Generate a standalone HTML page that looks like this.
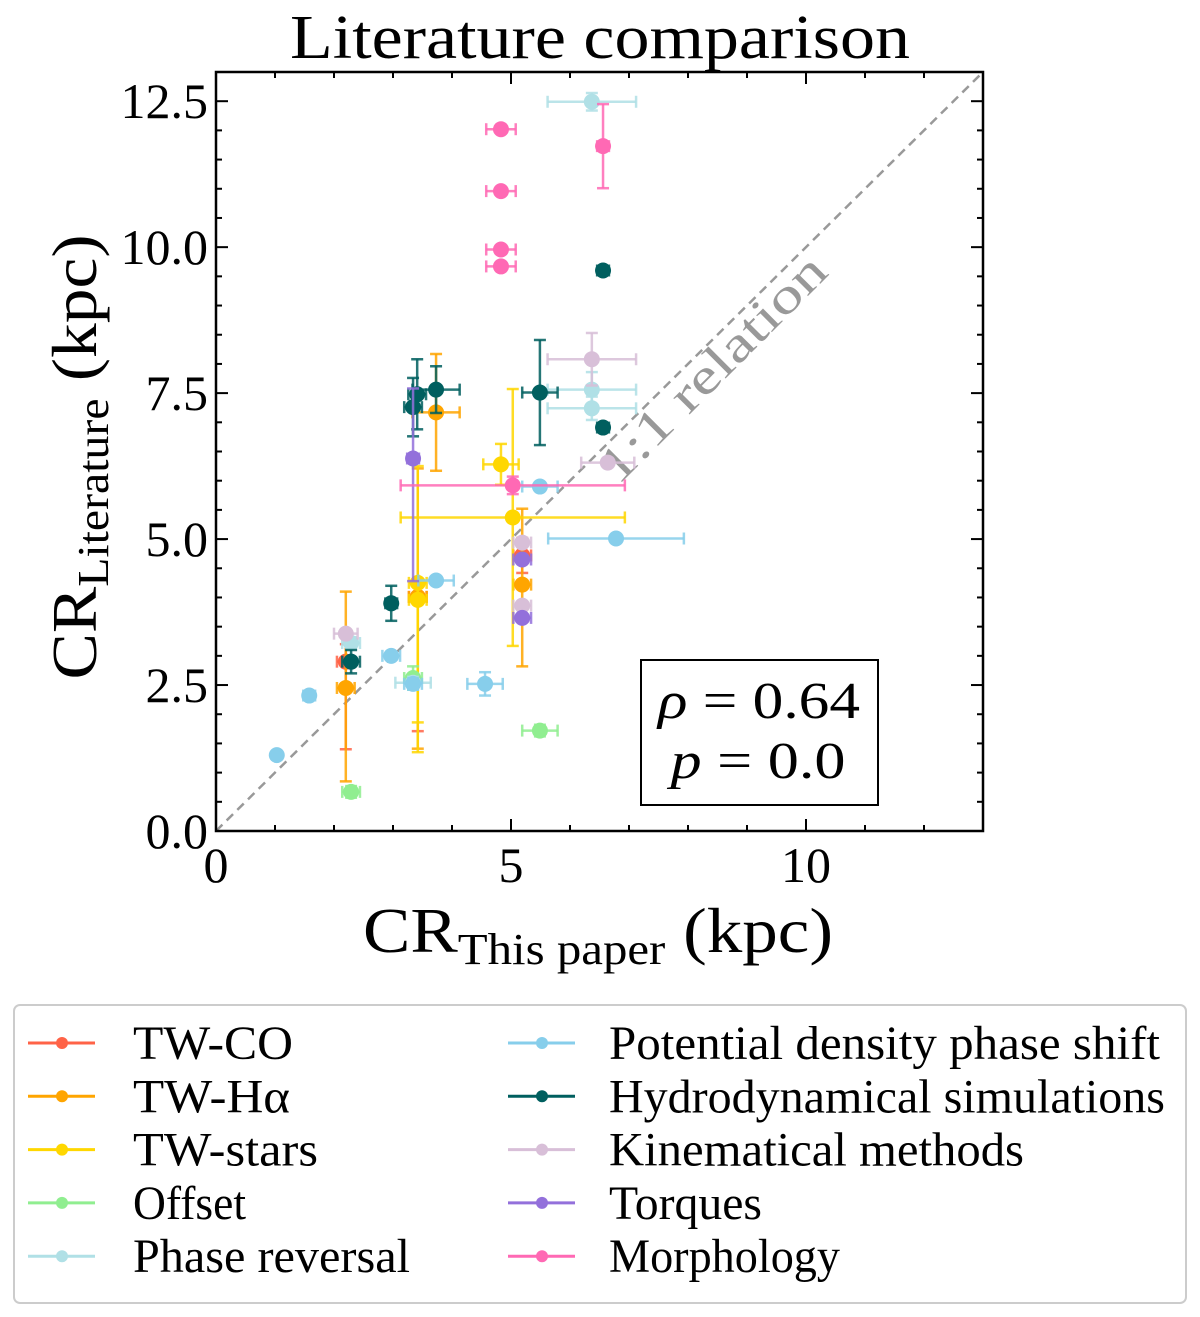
<!DOCTYPE html>
<html><head><meta charset="utf-8"><style>
body{margin:0;background:#fff}
svg{display:block}
text{font-family:"Liberation Serif",serif;fill:#000}
</style></head><body>
<svg id="chart" width="1200" height="1317">
<text x="600" y="58" font-size="62" text-anchor="middle" textLength="620" lengthAdjust="spacingAndGlyphs">Literature comparison</text>
<g id="plot"></g>
<rect x="216" y="72" width="767" height="759" fill="none" stroke="#000" stroke-width="2.5"/>
<g id="ticks"></g>
<text x="598" y="952" font-size="64" text-anchor="middle" textLength="470" lengthAdjust="spacingAndGlyphs">CR<tspan font-size="44" dy="12">This paper</tspan><tspan dy="-12"> (kpc)</tspan></text>
<text transform="translate(96,457) rotate(-90)" font-size="64" text-anchor="middle" textLength="445" lengthAdjust="spacingAndGlyphs">CR<tspan font-size="44" dy="12">Literature</tspan><tspan dy="-12"> (kpc)</tspan></text>
<g>
<rect x="641" y="660" width="237" height="145" fill="#fff" stroke="#000" stroke-width="2"/>
<text x="759" y="718" font-size="52" text-anchor="middle" textLength="202" lengthAdjust="spacingAndGlyphs"><tspan font-style="italic">ρ</tspan> = 0.64</text>
<text x="758" y="778" font-size="52" text-anchor="middle" textLength="175" lengthAdjust="spacingAndGlyphs"><tspan font-style="italic">p</tspan> = 0.0</text>
</g>
<g id="legend">
<rect x="14" y="1005" width="1172" height="298" rx="6" fill="#fff" stroke="#ccc" stroke-width="2"/>
</g>
</svg>
<script>
const categories=["TW-CO","TW-Hα","TW-stars","Offset","Phase reversal","Potential density phase shift","Hydrodynamical simulations","Kinematical methods","Torques","Morphology"];
const colors=["#ff6347","#ffa500","#ffd700","#90ee90","#b0e0e6","#87ceeb","#005f5f","#d8bfd8","#9370db","#ff69b4"];
// [x, y, xerr, yerrLow, yerrHigh] per category
const twCO=[[5.19,4.72,0.15,0.3,0.3],[2.2,2.9,0.15,1.5,0.3],[3.42,4.01,0.15,2.3,0.3]];
const twHa=[[3.73,7.17,0.4,1.0,1.0],[3.42,4.01,0.15,2.6,2.2],[5.19,4.22,0.15,1.4,1.3],[2.2,2.45,0.15,1.6,1.65]];
const twStars=[[4.83,6.28,0.3,0.35,0.35],[5.03,5.37,1.9,2.2,2.2],[3.42,4.25,0.15,2.9,2.0],[3.42,3.96,0.15,2.1,0.3]];
const offset=[[2.29,0.67,0.15,0.1,0.1],[5.49,1.72,0.3,0.1,0.1],[3.34,2.62,0.15,0.2,0.2]];
const phaseRev=[[6.37,12.49,0.75,0.15,0.15],[6.37,7.56,0.75,0.3,0.3],[6.37,7.24,0.75,0.2,0.2],[2.29,3.22,0.15,0.1,0.1],[3.34,2.54,0.3,0.1,0.1]];
const potential=[[1.03,1.3,0,0,0],[1.58,2.32,0.1,0,0],[2.97,3.0,0.15,0,0],[3.73,4.29,0.3,0,0],[5.49,5.9,0.3,0,0],[6.78,5.01,1.15,0,0],[4.56,2.52,0.3,0.2,0.2],[3.34,2.52,0.15,0.1,0.1]];
const hydro=[[6.56,9.6,0.1,0.05,0.05],[6.56,6.91,0.1,0.05,0.05],[5.49,7.51,0.3,0.9,0.9],[3.73,7.56,0.4,0.4,0.4],[3.41,7.48,0.15,0.6,0.6],[3.34,7.26,0.15,0.5,0.5],[2.97,3.9,0.1,0.3,0.3],[2.29,2.9,0.15,0.2,0.2]];
const kinem=[[6.37,8.08,0.75,0.45,0.45],[6.64,6.31,0.45,0,0],[5.19,4.94,0.15,0,0],[5.19,3.86,0.15,0,0],[2.2,3.38,0.2,0,0]];
const torques=[[3.34,6.38,0.1,2.1,1.2],[5.19,4.65,0.15,0,0],[5.19,3.65,0.15,0,0]];
const morph=[[4.83,12.02,0.25,0,0],[4.83,10.96,0.25,0,0],[4.83,9.96,0.25,0,0],[4.83,9.67,0.25,0,0],[6.56,11.73,0.1,0.72,0.72],[5.03,5.92,1.9,0.15,0.15]];
const series=[twCO,twHa,twStars,offset,phaseRev,potential,hydro,kinem,torques,morph];
const xTicks=[0,5,10];
const yTicks=[0,2.5,5,7.5,10,12.5];
const yTickLabels=["0.0","2.5","5.0","7.5","10.0","12.5"];
const legendWidths=[160,157,185,113,277,551,556,415,153,231];

const X0=216,X1=983,Y0=831,Y1=72,DMAX=13;
const sx=v=>X0+(v/DMAX)*(X1-X0);
const sy=v=>Y0-(v/DMAX)*(Y0-Y1);
const NS="http://www.w3.org/2000/svg";
function mk(tag,attrs,parent){const e=document.createElementNS(NS,tag);for(const k in attrs)e.setAttribute(k,attrs[k]);parent.appendChild(e);return e;}
const plot=document.getElementById('plot');
const diag=mk('line',{x1:sx(0),y1:sy(0),x2:sx(13),y2:sy(13),stroke:'#999','stroke-width':2.5,'stroke-dasharray':'9,6'},plot);


const dl=mk('text',{x:0,y:0,'font-size':50,transform:`translate(${sx(8.05)+33},${sy(8.05)+19}) rotate(-45)`,'text-anchor':'middle',textLength:300,lengthAdjust:'spacingAndGlyphs'},plot);
dl.style.fill='#999';dl.textContent='1:1 relation';


series.forEach((pts,si)=>{
  const g=mk('g',{},plot);
  
  
  const c=colors[si];
  pts.forEach(p=>{
    const [x,y,xe,yl,yh]=p;
    const cx=sx(x),cy=sy(y);
    if(xe>0){mk('line',{x1:sx(x-xe),x2:sx(x+xe),y1:cy,y2:cy,stroke:c,'stroke-width':2.5,opacity:0.85},g);
      mk('line',{x1:sx(x-xe),x2:sx(x-xe),y1:cy-6,y2:cy+6,stroke:c,'stroke-width':2.5,opacity:0.85},g);
      mk('line',{x1:sx(x+xe),x2:sx(x+xe),y1:cy-6,y2:cy+6,stroke:c,'stroke-width':2.5,opacity:0.85},g);}
    if(yl>0||yh>0){mk('line',{x1:cx,x2:cx,y1:sy(y-yl),y2:sy(y+yh),stroke:c,'stroke-width':2.5,opacity:0.85},g);
      mk('line',{x1:cx-6,x2:cx+6,y1:sy(y-yl),y2:sy(y-yl),stroke:c,'stroke-width':2.5,opacity:0.85},g);
      mk('line',{x1:cx-6,x2:cx+6,y1:sy(y+yh),y2:sy(y+yh),stroke:c,'stroke-width':2.5,opacity:0.85},g);}
    const m=mk('circle',{cx:cx,cy:cy,r:8,fill:c},g);
    
    
  });
});
const tk=document.getElementById('ticks');
for(let v=0;v<=13;v++){const x=sx(v),y=sy(v),L=(v%5==0)?12:6;
  mk('line',{x1:x,x2:x,y1:Y0,y2:Y0-L,stroke:'#000','stroke-width':2},tk);
  mk('line',{x1:x,x2:x,y1:Y1,y2:Y1+L,stroke:'#000','stroke-width':2},tk);}
for(let v=0;v<=13;v+=0.5){const y=sy(v),L=(v%2.5==0)?12:6;
  mk('line',{x1:X0,x2:X0+L,y1:y,y2:y,stroke:'#000','stroke-width':2},tk);
  mk('line',{x1:X1,x2:X1-L,y1:y,y2:y,stroke:'#000','stroke-width':2},tk);}
xTicks.forEach(v=>{const t=mk('text',{x:sx(v),y:882,'font-size':50,'text-anchor':'middle'},tk);t.textContent=v;
  
  });
yTicks.forEach((v,i)=>{const t=mk('text',{x:208,y:sy(v)+17,'font-size':50,'text-anchor':'end'},tk);t.textContent=yTickLabels[i];
  
  });
const lg=document.getElementById('legend');
categories.forEach((name,i)=>{
  const col=Math.floor(i/5),row=i%5;
  const lx=col?508:28,tx=col?609:133,y=1043+row*53.3;
  const g=mk('g',{},lg);
  
  
  mk('line',{x1:lx,x2:lx+67,y1:y,y2:y,stroke:colors[i],'stroke-width':3},g);
  mk('circle',{cx:lx+34,cy:y,r:6,fill:colors[i]},g);
  const t=mk('text',{x:tx,y:y+16,'font-size':48,textLength:legendWidths[i],lengthAdjust:'spacingAndGlyphs'},g);t.textContent=name;
});
</script>
</body></html>
